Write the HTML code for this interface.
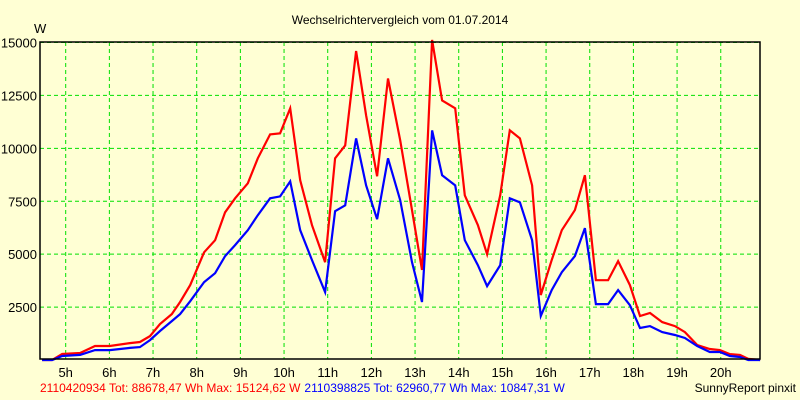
<!DOCTYPE html>
<html><head><meta charset="utf-8"><style>
body{margin:0;background:#ffffd4;}
svg{display:block;font-family:"Liberation Sans",sans-serif;}
</style></head><body>
<svg id="chart" width="800" height="400">
<rect x="0" y="0" width="800" height="400" fill="#ffffd4"/>
<text x="400" y="24" font-size="12" text-anchor="middle" fill="#000">Wechselrichtervergleich vom 01.07.2014</text>
<text x="34" y="33" font-size="13" fill="#000">W</text>
<g id="grid"></g>
<g id="series"></g>
<rect x="40" y="42" width="720" height="317" fill="none" stroke="#000" stroke-width="1.5"/>
<g id="labels"></g>
<text x="40" y="392" font-size="12"><tspan fill="#ff0000">2110420934 Tot: 88678,47 Wh Max: 15124,62 W</tspan><tspan fill="#0000ff" dx="4">2110398825 Tot: 62960,77 Wh Max: 10847,31 W</tspan></text>
<text x="796" y="392" font-size="12" text-anchor="end" fill="#000">SunnyReport pinxit</text>
</svg>
<script>
const times=[4.46,4.69,4.92,5.33,5.67,6.01,6.47,6.70,6.93,7.16,7.43,7.62,7.85,8.17,8.42,8.65,8.88,9.17,9.40,9.68,9.91,10.14,10.37,10.64,10.94,11.17,11.40,11.65,11.88,12.13,12.38,12.66,12.93,13.16,13.39,13.62,13.92,14.14,14.44,14.65,14.95,15.17,15.40,15.68,15.88,16.13,16.36,16.66,16.89,17.14,17.42,17.65,17.92,18.15,18.38,18.66,18.95,19.18,19.46,19.75,19.98,20.21,20.44,20.63,20.90];
const redValues=[0,0,283,330,660,660,800,850,1130,1700,2170,2740,3540,5090,5660,6980,7640,8350,9530,10660,10710,11890,8490,6370,4620,9530,10140,14600,11560,8680,13300,10380,7080,4250,15124,12260,11890,7780,6370,5000,7780,10850,10470,8250,3070,4720,6130,7080,8730,3770,3770,4670,3540,2080,2220,1790,1600,1320,710,520,470,280,240,50,0];
const blueValues=[0,0,190,240,470,470,570,610,940,1370,1840,2170,2780,3680,4100,4910,5430,6130,6840,7640,7730,8440,6130,4720,3210,7030,7310,10470,8250,6650,9530,7550,4620,2740,10847,8730,8250,5660,4480,3490,4480,7640,7450,5660,2080,3300,4150,4910,6230,2640,2640,3300,2590,1510,1600,1320,1180,1040,660,380,380,190,140,0,0];
const yTicks=[2500,5000,7500,10000,12500,15000];
const yTickLabels=["2500","5000","7500","10000","12500","15000"];
const xTicks=[5,6,7,8,9,10,11,12,13,14,15,16,17,18,19,20];
const xTickLabels=["5h","6h","7h","8h","9h","10h","11h","12h","13h","14h","15h","16h","17h","18h","19h","20h"];
const NS="http://www.w3.org/2000/svg";
function xs(h){return 65.7+(h-5)*43.67;}
function ys(v){return 360-(v/15000)*317.5;}
const grid=document.getElementById('grid'),labels=document.getElementById('labels'),series=document.getElementById('series');
yTicks.forEach((v,i)=>{
 const l=document.createElementNS(NS,'line');
 
 
 l.setAttribute('x1',40);l.setAttribute('x2',760);l.setAttribute('y1',ys(v));l.setAttribute('y2',ys(v));
 l.setAttribute('stroke','#00e000');l.setAttribute('stroke-dasharray','4,3');grid.appendChild(l);
 const t=document.createElementNS(NS,'text');
 
 
 t.setAttribute('x',37);t.setAttribute('y',ys(v)+5);t.setAttribute('text-anchor','end');t.setAttribute('font-size','13');
 t.textContent=yTickLabels[i];labels.appendChild(t);
});
xTicks.forEach((h,i)=>{
 const l=document.createElementNS(NS,'line');
 
 
 l.setAttribute('x1',xs(h));l.setAttribute('x2',xs(h));l.setAttribute('y1',42);l.setAttribute('y2',359);
 l.setAttribute('stroke','#00e000');l.setAttribute('stroke-dasharray','4,3');grid.appendChild(l);
 const t=document.createElementNS(NS,'text');
 
 
 t.setAttribute('x',xs(h));t.setAttribute('y',377);t.setAttribute('text-anchor','middle');t.setAttribute('font-size','13');
 t.textContent=xTickLabels[i];labels.appendChild(t);
});
function drawLine(vals,color,name){
 const p=document.createElementNS(NS,'polyline');
 
 
 p.setAttribute('points',vals.map((v,i)=>xs(times[i]).toFixed(1)+','+ys(v).toFixed(1)).join(' '));
 p.setAttribute('fill','none');p.setAttribute('stroke',color);p.setAttribute('stroke-width','2.2');
 series.appendChild(p);
}
drawLine(redValues,'#ff0000','red-series-line');
drawLine(blueValues,'#0000ff','blue-series-line');
</script>
</body></html>
